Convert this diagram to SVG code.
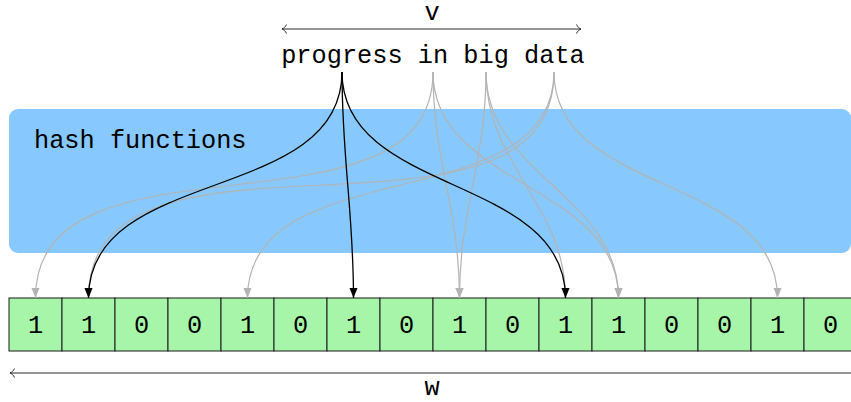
<svg xmlns="http://www.w3.org/2000/svg" width="851" height="402" viewBox="0 0 851 402">
<style>
.t{font-family:"Liberation Mono","DejaVu Sans Mono",monospace;font-size:25.3px;fill:#000}
.cell{fill:#a6f5a8;stroke:#1a1a1a;stroke-width:1}
.g{fill:none;stroke:#b3b3b3;stroke-width:1.2;marker-end:url(#ag)}
.k{fill:none;stroke:#000;stroke-width:1.3;marker-end:url(#ak)}
.dim{fill:none;stroke:#2a2a2a;stroke-width:1}
</style>
<defs>
<marker id="ak" markerUnits="userSpaceOnUse" markerWidth="12" markerHeight="10" refX="10" refY="4" orient="auto"><path d="M0,0 L10,4 L0,8 z" fill="#000"/></marker>
<marker id="ag" markerUnits="userSpaceOnUse" markerWidth="12" markerHeight="10" refX="10" refY="4" orient="auto"><path d="M0,0 L10,4 L0,8 z" fill="#b3b3b3"/></marker>
</defs>
<g id="hash-functions">
<rect x="9" y="109" width="842" height="144" rx="9" fill="#87c9fe"/>
<text class="t" x="34" y="148">hash functions</text>
</g>
<g id="v-dimension">
<path class="dim" d="M282,29 H581"/>
<path class="dim" d="M286.5,24.5 C285.5,27 283.5,28.5 282,29 C283.5,29.5 285.5,31 286.5,33.5"/>
<path class="dim" d="M576.5,24.5 C577.5,27 579.5,28.5 581,29 C579.5,29.5 577.5,31 576.5,33.5"/>
<text class="t" x="432" y="20" text-anchor="middle">v</text>
</g>
<g id="input">
<text class="t" x="433" y="63" text-anchor="middle">progress in big data</text>
</g>
<g id="bit-array">
<rect class="cell" x="9" y="298" width="53" height="53"/>
<rect class="cell" x="62" y="298" width="53" height="53"/>
<rect class="cell" x="115" y="298" width="53" height="53"/>
<rect class="cell" x="168" y="298" width="53" height="53"/>
<rect class="cell" x="221" y="298" width="53" height="53"/>
<rect class="cell" x="274" y="298" width="53" height="53"/>
<rect class="cell" x="327" y="298" width="53" height="53"/>
<rect class="cell" x="380" y="298" width="53" height="53"/>
<rect class="cell" x="433" y="298" width="53" height="53"/>
<rect class="cell" x="486" y="298" width="53" height="53"/>
<rect class="cell" x="539" y="298" width="53" height="53"/>
<rect class="cell" x="592" y="298" width="53" height="53"/>
<rect class="cell" x="645" y="298" width="53" height="53"/>
<rect class="cell" x="698" y="298" width="53" height="53"/>
<rect class="cell" x="751" y="298" width="53" height="53"/>
<rect class="cell" x="804" y="298" width="53" height="53"/>
<g class="t" text-anchor="middle">
<text x="35.5" y="333">1</text>
<text x="88.5" y="333">1</text>
<text x="141.5" y="333">0</text>
<text x="194.5" y="333">0</text>
<text x="247.5" y="333">1</text>
<text x="300.5" y="333">0</text>
<text x="353.5" y="333">1</text>
<text x="406.5" y="333">0</text>
<text x="459.5" y="333">1</text>
<text x="512.5" y="333">0</text>
<text x="565.5" y="333">1</text>
<text x="618.5" y="333">1</text>
<text x="671.5" y="333">0</text>
<text x="724.5" y="333">0</text>
<text x="777.5" y="333">1</text>
<text x="830.5" y="333">0</text>
</g>
</g>
<g id="w-dimension">
<path class="dim" d="M10,373 H860"/>
<path class="dim" d="M14.5,368.5 C13.5,371 11.5,372.5 10,373 C11.5,373.5 13.5,375 14.5,377.5"/>
<text class="t" x="432" y="395" text-anchor="middle">w</text>
</g>
<g id="connectors">
<path class="g" d="M433,72 C433,251 35.5,119 35.5,298"/>
<path class="g" d="M554,72 C554,274.6 88.5,95.4 88.5,298"/>
<path class="g" d="M554,72 C554,221.1 247.5,148.9 247.5,298"/>
<path class="g" d="M433,72 C433,161.1 459.5,208.9 459.5,298"/>
<path class="g" d="M486,72 C486,161.1 459.5,208.9 459.5,298"/>
<path class="g" d="M486,72 C486,165.8 565.5,204.2 565.5,298"/>
<path class="g" d="M433,72 C433,186.5 618.5,183.5 618.5,298"/>
<path class="g" d="M486,72 C486,174.6 618.5,195.4 618.5,298"/>
<path class="g" d="M554,72 C554,196.4 777.5,173.6 777.5,298"/>
<path class="k" d="M342,72 C342,205 88.5,165 88.5,298"/>
<path class="k" d="M342,72 C342,160.6 353.5,209.4 353.5,298"/>
<path class="k" d="M342,72 C342,196.4 565.5,173.6 565.5,298"/>
</g>
</svg>
